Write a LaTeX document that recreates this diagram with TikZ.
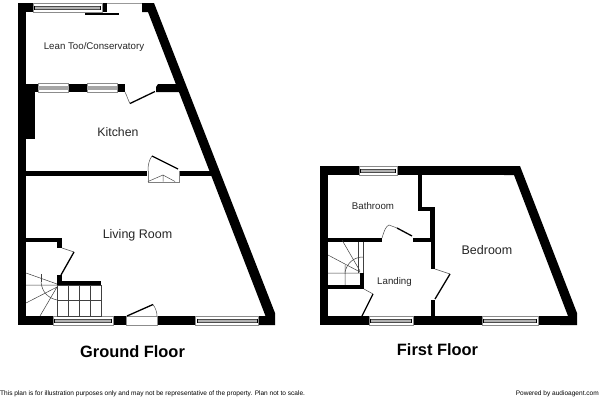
\documentclass[tikz,border=0pt]{standalone}
\usepackage{fontspec}
\setmainfont{Liberation Sans}
\newcommand{\fpwin}[3]{% x1,x2,ytop
  \pgfmathsetmacro{\ya}{#3}\pgfmathsetmacro{\yb}{#3+9}\pgfmathsetmacro{\ym}{#3+4.5}
  \pgfmathsetmacro{\xa}{#1+1.5}\pgfmathsetmacro{\xb}{#2-1.5}
  \fill[white,draw=black!45,line width=.6pt] (#1,\ya) rectangle (#2,\yb);
  \fill[black!30,draw=black!70,line width=.5pt] (\xa,\ym-1.3) rectangle (\xb,\ym+1.3);
  \draw[black,line width=.7pt] (\xa,\ym-2) -- (\xa,\ym+2) (\xb,\ym-2) -- (\xb,\ym+2);
}
\newcommand{\fpwinb}[3]{% x1,x2,ytop: inner wall window
  \pgfmathsetmacro{\ya}{#3}\pgfmathsetmacro{\yb}{#3+8.5}
  \fill[white,draw=black!45,line width=.6pt] (#1,\ya) rectangle (#2,\yb);
  \fill[black!35] (#1,\ya+2.4) rectangle (#2,\yb-2.4);
}
\tikzset{
  wall/.style={fill=black,draw=none},
  leaf/.style={draw=black,line width=1.3pt},
  swing/.style={draw=black!70,line width=.5pt},
  stair/.style={draw=black!75,line width=.5pt},
  room/.style={font=\fontsize{9.7}{11}\selectfont,text=black!85,inner sep=0pt},
  bigroom/.style={font=\fontsize{12.5}{14}\selectfont,text=black!85,inner sep=0pt},
  floortitle/.style={font=\fontsize{16.4}{19}\selectfont\bfseries,inner sep=0pt},
  foot/.style={font=\fontsize{6.55}{8}\selectfont,inner sep=0pt}
}
\begin{document}
\begin{tikzpicture}[x=1pt,y=-1pt]
\useasboundingbox[fill=white] (0,0) rectangle (600,400);
% ---------- Ground floor ----------
\fill[wall] (17.5,3) rectangle (26,325);
\fill[wall] (17.5,3) rectangle (107,12);
\draw[black!40,line width=.6pt] (107,3) -- (142,3);
\fill[wall] (142,3) -- (154,3) -- (275,313) -- (275,325) -- (259,325) -- (259,316) -- (265.5,316) -- (148,12) -- (142,12) -- cycle;
\fill[wall] (17.5,316) rectangle (275,325);
\fill[wall] (85,13) rectangle (118.5,15);
\fill[wall] (26,84) rectangle (125,92);
\fill[wall] (158,84) -- (182,84) -- (182,92) -- (156,92) -- (156,87) -- cycle;
\fill[wall] (17.5,84) rectangle (34.5,139);
\fill[wall] (26,171) rectangle (147,175.5);
\fill[wall] (179,171) rectangle (212,175.5);
% windows
\fpwin{33}{102}{3}
\fpwinb{38}{68.5}{83.7}
\fpwinb{87}{117}{83.7}
\fpwin{53}{113}{316}
\fpwin{195.5}{258.5}{316}
% doors
\draw[leaf] (130,103.5) -- (155,91.5);
\draw[swing] (125,92) .. controls (127,96) and (128,100) .. (130,103.5);
\draw[leaf] (152,156) -- (178,169);
\draw[swing] (152,156) .. controls (149,160) and (148,165) .. (148,171);
\draw[swing,black!50] (148,171) -- (148,182) -- (179,182) -- (179,171);
\draw[swing] (148,181.5) -- (163,175) -- (175,181.5) (163,175) -- (163,181.5);
\fill[white,draw=black!45,line width=.5pt] (126,316) rectangle (157,325);
\draw[leaf] (127,316) -- (153,304.5);
\draw[swing] (153,304.5) .. controls (155.5,308) and (157,312) .. (157,316);
% living room door and stair walls
\fill[wall] (26,237.5) rectangle (62,241.5);
\fill[wall] (57,237.5) rectangle (62,248);
\draw[swing] (62,248) -- (74,252);
\draw[leaf] (74,252) -- (61,275);
\fill[wall] (57,275) rectangle (62,285);
\fill[wall] (57,281) rectangle (101,285);
% stairs
\draw[stair] (57,285) rectangle (101,316);
\draw[stair] (68.5,285) -- (68.5,316) (79.5,285) -- (79.5,316) (90.5,285) -- (90.5,316) (57,300) -- (101,300);
\draw[stair] (26,273) -- (57,284) (26,285) -- (57,285) (26,303) -- (57,287) (40,316) -- (57,287);
\draw[stair] (41,274) -- (41,282);
\draw[stair] (41,282) .. controls (42,292) and (48,298) .. (57,300);
% labels
\node[room] (lean) at (94,47) {Lean Too/Conservatory};
\node[bigroom,font=\fontsize{12.3}{14}\selectfont] (kitchen) at (118,132) {Kitchen};
\node[bigroom] (living) at (137.5,235.5) {Living Room};
\node[floortitle] (gf) at (132.5,352) {Ground Floor};
% ---------- First floor ----------
\fill[wall] (319.5,166) rectangle (328,325);
\fill[wall] (319.5,166) rectangle (515,175);
\fill[wall] (504,166) -- (520,166) -- (577,313) -- (577,325) -- (560,325) -- (560,316) -- (568,316) -- (514,175) -- (504,175) -- cycle;
\fill[wall] (319.5,316) rectangle (577,325);
\fill[wall] (418,175) rectangle (422,211);
\fill[wall] (418,207) rectangle (435,211);
\fill[wall] (430,207) rectangle (435,242);
\fill[wall] (413,238) rectangle (435,242);
\fill[wall] (431,242) rectangle (435,269);
\fill[wall] (431,300) rectangle (435,316);
\fill[wall] (328,237.5) rectangle (382,242);
\fill[wall] (328,285) rectangle (364,289);
\fill[wall] (360,273) rectangle (364,289);
% windows
\fpwin{359}{397}{166}
\fpwin{369}{413}{316}
\fpwin{482}{538}{316}
% doors
\draw[swing] (382,238) .. controls (384,231) and (386,226) .. (389,225) -- (397,228);
\draw[leaf] (397,228) -- (412,236);
\draw[swing] (435,269) -- (450,274);
\draw[leaf] (450,274) -- (435,299);
\draw[swing] (364,289) -- (373,294);
\draw[leaf] (373,294) -- (362,316);
% stairs
\draw[stair] (363.5,242) -- (363.5,273) (358,242) -- (358,273);
\draw[stair] (328,255) -- (360,272) (342,240) -- (360,271) (328,273) -- (360,273) (345,265) -- (345,285);
\draw[stair] (345,272) .. controls (347,263) and (354,257) .. (363,257);
% labels
\node[room] (bath) at (373,206.5) {Bathroom};
\node[room] (landing) at (394.5,282) {Landing};
\node[bigroom] (bed) at (487,250) {Bedroom};
\node[floortitle] (ff) at (437.5,350) {First Floor};
% footers
\node[foot,anchor=west] (note) at (0,393.5) {This plan is for illustration purposes only and may not be representative of the property. Plan not to scale.};
\node[foot,anchor=east] (pow) at (599,394) {Powered by audioagent.com};
\end{tikzpicture}
\end{document}
